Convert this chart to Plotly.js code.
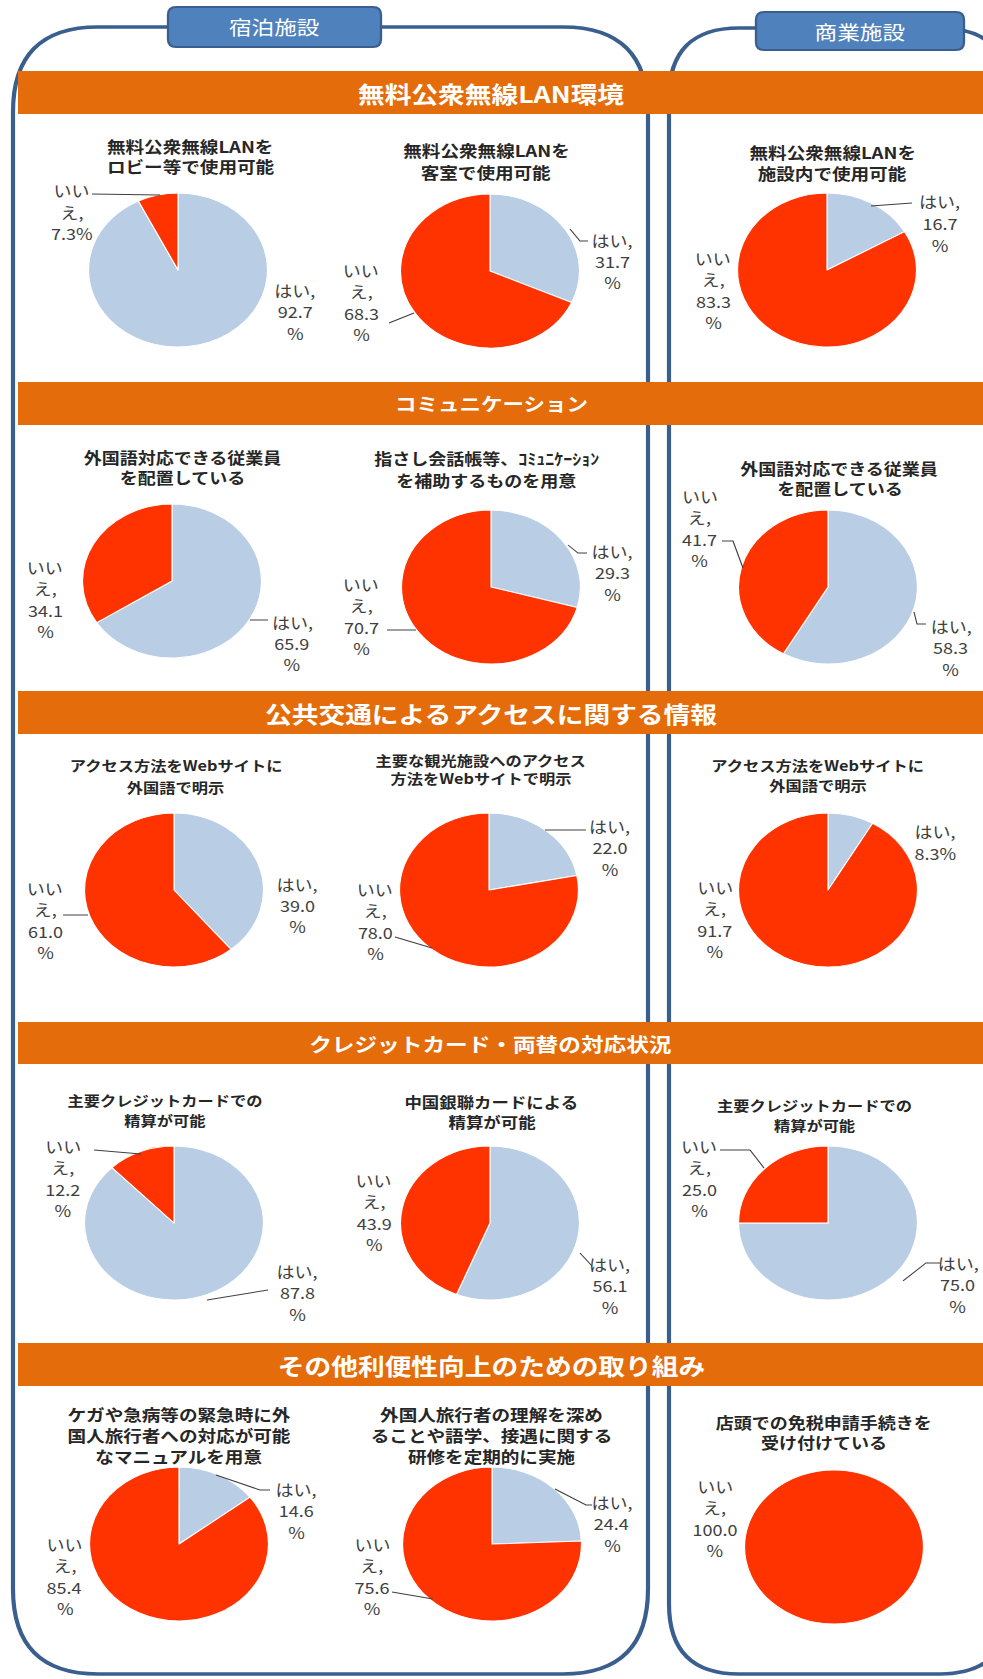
<!DOCTYPE html>
<html><head><meta charset="utf-8">
<script src="https://cdn.plot.ly/plotly-3.0.1.min.js"></script>
<style>
html,body{margin:0;padding:0;background:#fff}
#wrap{width:983px;height:1679px;overflow:hidden}
#chart{width:846px;height:1679px;transform:scaleX(1.16194);transform-origin:0 0}
</style>
</head><body><div id="wrap"><div id="chart"></div></div>
<script>
// ---------- data ----------
const facilityHeaders = ['宿泊施設', '商業施設'];
const sectionTitles = ['無料公衆無線LAN環境', 'コミュニケーション', '公共交通によるアクセスに関する情報', 'クレジットカード・両替の対応状況', 'その他利便性向上のための取り組み'];
const chartTitles = [
  '無料公衆無線LANを<br>ロビー等で使用可能',
  '無料公衆無線LANを<br>客室で使用可能',
  '無料公衆無線LANを<br>施設内で使用可能',
  '外国語対応できる従業員<br>を配置している',
  '指さし会話帳等、ｺﾐｭﾆｹｰｼｮﾝ<br>を補助するものを用意',
  '外国語対応できる従業員<br>を配置している',
  'アクセス方法をWebサイトに<br>外国語で明示',
  '主要な観光施設へのアクセス<br>方法をWebサイトで明示',
  'アクセス方法をWebサイトに<br>外国語で明示',
  '主要クレジットカードでの<br>精算が可能',
  '中国銀聯カードによる<br>精算が可能',
  '主要クレジットカードでの<br>精算が可能',
  'ケガや急病等の緊急時に外<br>国人旅行者への対応が可能<br>なマニュアルを用意',
  '外国人旅行者の理解を深め<br>ることや語学、接遇に関する<br>研修を定期的に実施',
  '店頭での免税申請手続きを<br>受け付けている'
];
const sliceNames = ['はい', 'いいえ'];
const yesPct = [92.7, 31.7, 16.7, 65.9, 29.3, 58.3, 39.0, 22.0, 8.3, 87.8, 56.1, 75.0, 14.6, 24.4, 0.0];
const noPct  = [7.3, 68.3, 83.3, 34.1, 70.7, 41.7, 61.0, 78.0, 91.7, 12.2, 43.9, 25.0, 85.4, 75.6, 100.0];

// ---------- layout config (final-image pixels) ----------
const W = 983, H = 1679, PLOT_W = 846;   // drawing is stretched horizontally by W/PLOT_W, like the source picture
const FONT = "'Noto Sans CJK JP', 'Noto Sans', sans-serif";
const BLUE = '#b9cde5', RED = '#ff3300', ORANGE = '#e46c0a', FRAME = '#3a5f8f';
const pieCenters = [[178,270],[490,271],[827,270],[172,581],[491,587],[828,587],[174,890],[489,890],[828,890],[174,1223],[490,1223],[828,1223],[179,1544],[492,1544],[834,1547]];
const pieW = 179, pieH = 154;
// title: [center x, first line y, line step, font size]
const titlePos = [[190,146,20,16],[486,150,22,16],[832,152,21,16],[183,457,20,15.5],[487,458,22,15.5],[840,468,20,15.5],[176,765,22,14],[481,760,18,14],[818,765,20,14],[165,1100,20,14],[492,1101,20,15],[815,1105,20,14],[179,1414,21,16],[492,1414,21,16],[824,1422,20,15.5]];
// label block: [center x, center y, "%" on its own line]
const yesLabelPos = [[295,311,1],[612,261,1],[940,223,1],[292,643,1],[612,572,1],[951,647,1],[297,905,1],[610,847,1],[935,842,0],[297,1292,1],[610,1285,1],[958,1284,1],[296,1510,1],[612,1523,1],[0,0,1]];
const noLabelPos  = [[72,212,0],[361,302,1],[713,290,1],[45,599,1],[361,616,1],[700,528,1],[45,920,1],[375,921,1],[715,919,1],[63,1178,1],[374,1212,1],[699,1178,1],[65,1576,1],[372,1576,1],[715,1518,1]];
const labelStep = 21.5;
const leaders = [
  [[92,194],[160,195]],
  [[570,229],[580,241],[588,241]],
  [[389,323],[414,313]],
  [[871,206],[912,203]],
  [[250,620],[268,620]],
  [[568,545],[578,553],[587,553]],
  [[387,630],[416,630]],
  [[722,541],[733,541],[743,568]],
  [[914,612],[917,624],[926,624]],
  [[63,915],[88,915]],
  [[545,830],[586,830]],
  [[395,937],[432,948]],
  [[94,1150],[141,1154]],
  [[207,1300],[268,1290]],
  [[580,1253],[592,1266]],
  [[720,1150],[750,1150],[764,1168]],
  [[903,1281],[926,1263],[940,1263]],
  [[216,1475],[260,1490],[270,1490]],
  [[555,1489],[586,1505],[592,1505]],
  [[392,1592],[433,1599]]
];
const bannerY = [[71,114],[382,425],[691,734],[1022,1064],[1343,1386]];
const bannerFont = [23, 18.5, 23, 19.5, 23];
const headerBoxes = [[168,7,381,47],[756,12,964,50]];

// ---------- helpers ----------
const X = px => px / W;           // paper fraction (same before/after the stretch)
const Y = py => 1 - py / H;
const P = (x, y) => X(x).toFixed(5) + ',' + Y(y).toFixed(5);
function roundRect(x0, y0, x1, y1, r) {
  return 'M' + P(x0 + r, y0) + ' L' + P(x1 - r, y0) + ' Q' + P(x1, y0) + ' ' + P(x1, y0 + r) +
    ' L' + P(x1, y1 - r) + ' Q' + P(x1, y1) + ' ' + P(x1 - r, y1) +
    ' L' + P(x0 + r, y1) + ' Q' + P(x0, y1) + ' ' + P(x0, y1 - r) +
    ' L' + P(x0, y0 + r) + ' Q' + P(x0, y0) + ' ' + P(x0 + r, y0) + ' Z';
}

// ---------- traces ----------
const traces = yesPct.map((v, i) => {
  const [cx, cy] = pieCenters[i];
  return {
    type: 'pie',
    values: [v, noPct[i]],
    labels: sliceNames,
    sort: false,
    direction: 'clockwise',
    rotation: 0,
    textinfo: 'none',
    hoverinfo: 'label+percent',
    showlegend: false,
    marker: {colors: [BLUE, RED], line: {color: '#ffffff', width: 1}},
    domain: {x: [X(cx - pieW / 2), X(cx + pieW / 2)], y: [Y(cy + pieH / 2), Y(cy - pieH / 2)]}
  };
});

// ---------- shapes ----------
const shapes = [];
shapes.push({type: 'path', xref: 'paper', yref: 'paper', layer: 'below', path: roundRect(13, 27, 648, 1674, 85), line: {color: FRAME, width: 3.6}, fillcolor: 'rgba(0,0,0,0)'});
shapes.push({type: 'path', xref: 'paper', yref: 'paper', layer: 'below', path: roundRect(669, 28, 1010, 1674, 70), line: {color: FRAME, width: 3.6}, fillcolor: 'rgba(0,0,0,0)'});
bannerY.forEach(([y0, y1]) => shapes.push({type: 'rect', xref: 'paper', yref: 'paper', layer: 'below', x0: X(18), x1: X(983), y0: Y(y1), y1: Y(y0), fillcolor: ORANGE, line: {width: 0}}));
headerBoxes.forEach(([x0, y0, x1, y1]) => shapes.push({type: 'path', xref: 'paper', yref: 'paper', layer: 'below', path: roundRect(x0, y0, x1, y1, 8), fillcolor: '#4f81bd', line: {color: FRAME, width: 2}}));
leaders.forEach(pts => shapes.push({type: 'path', xref: 'paper', yref: 'paper', layer: 'above', path: 'M' + pts.map(p => P(p[0], p[1])).join(' L'), line: {color: '#404040', width: 1}}));

// ---------- annotations ----------
const ann = [];
const txt = (x, y, text, size, color, bold) => ann.push({xref: 'paper', yref: 'paper', x: X(x), y: Y(y), xanchor: 'center', yanchor: 'middle', showarrow: false, align: 'center', text: bold ? '<b>' + text + '</b>' : text, font: {family: FONT, size: size, color: color}});
const block = (x, yc, lines, step, size, color, bold) => lines.forEach((t, k) => txt(x, yc + (k - (lines.length - 1) / 2) * step, t, size, color, bold));

facilityHeaders.forEach((t, i) => { const b = headerBoxes[i]; txt((b[0] + b[2]) / 2, (b[1] + b[3]) / 2, t, 19.5, '#ffffff', false); });
sectionTitles.forEach((t, i) => txt(491, (bannerY[i][0] + bannerY[i][1]) / 2, t, bannerFont[i], '#ffffff', true));
chartTitles.forEach((t, i) => {
  const [x, y0, step, size] = titlePos[i];
  t.split('<br>').forEach((line, k) => txt(x, y0 + k * step, line, size, '#262626', true));
});
yesPct.forEach((v, i) => {
  if (v > 0) {
    const [x, y, s] = yesLabelPos[i];
    const lines = s ? [sliceNames[0] + ',', v.toFixed(1), '%'] : [sliceNames[0] + ',', v.toFixed(1) + '%'];
    block(x, y, lines, labelStep, 15.5, '#404040', false);
  }
  const n = noPct[i];
  if (n > 0) {
    const [x, y, s] = noLabelPos[i];
    const lines = s ? ['いい', 'え,', n.toFixed(1), '%'] : ['いい', 'え,', n.toFixed(1) + '%'];
    block(x, y, lines, labelStep, 15.5, '#404040', false);
  }
});

Plotly.newPlot('chart', traces, {
  width: PLOT_W, height: H,
  margin: {l: 0, r: 0, t: 0, b: 0},
  paper_bgcolor: '#ffffff', plot_bgcolor: '#ffffff',
  font: {family: FONT},
  shapes: shapes,
  annotations: ann
}, {displayModeBar: false, staticPlot: true});
</script>
</body></html>
